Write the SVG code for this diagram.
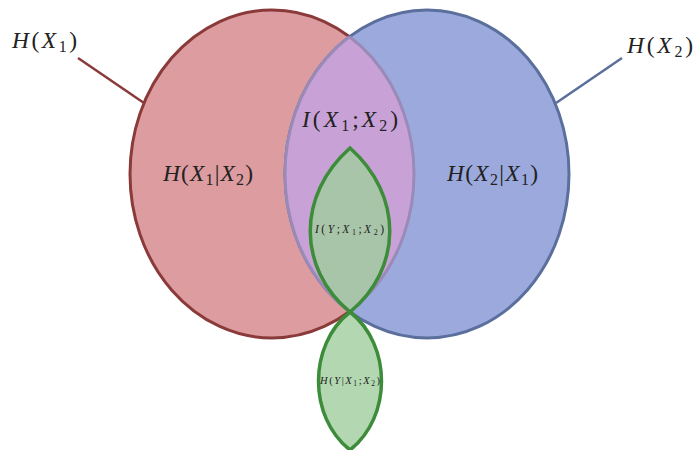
<svg xmlns="http://www.w3.org/2000/svg" width="696" height="450" viewBox="0 0 696 450">
<style>
text{font-family:"Liberation Serif","DejaVu Serif",serif;fill:#222}
.i{font-style:italic}
.big{font-size:23.5px}
.sm{font-size:11.5px}
.xs{font-size:10.5px}
</style>
<defs>
<clipPath id="clipRed"><ellipse cx="272" cy="174" rx="142" ry="164"/></clipPath>
<clipPath id="clipBlue"><ellipse cx="427" cy="174" rx="142" ry="164"/></clipPath>
</defs>
<g id="connectors">
<line x1="78" y1="58" x2="144" y2="103" stroke="#8b3a3a" stroke-width="2.5"/>
<line x1="622" y1="58" x2="556" y2="103" stroke="#5b6f9c" stroke-width="2.5"/>
</g>
<g id="X1">
<ellipse cx="272" cy="174" rx="142" ry="164" fill="#dc9ca0" stroke="#8b3a3a" stroke-width="3"/>
</g>
<g id="X2">
<ellipse cx="427" cy="174" rx="142" ry="164" fill="#9ba9dd" stroke="#5b6f9c" stroke-width="3"/>
</g>
<g id="overlap">
<ellipse cx="427" cy="174" rx="142" ry="164" fill="#c8a2d6" clip-path="url(#clipRed)"/>
<ellipse cx="272" cy="174" rx="142" ry="164" fill="none" stroke="#9a8ab8" stroke-width="3" clip-path="url(#clipBlue)"/>
<ellipse cx="427" cy="174" rx="142" ry="164" fill="none" stroke="#9a8ab8" stroke-width="3" clip-path="url(#clipRed)"/>
</g>
<g id="IY">
<path d="M350,148 C297,195 297,268 350,312 C403,268 403,195 350,148 Z" fill="#a9c5a9" stroke="#3c8c3a" stroke-width="3.5" stroke-linejoin="miter"/>
</g>
<g id="HY">
<path d="M350,312 C308,345 308,417 350,450 C392,417 392,345 350,312 Z" fill="#b3d8b1" stroke="#3c8c3a" stroke-width="3.5"/>
</g>
<g id="labels">
<text class="big" x="12" y="48" textLength="65" lengthAdjust="spacing"><tspan class="i">H</tspan>(<tspan class="i">X</tspan><tspan font-size="16" dy="4">1</tspan><tspan dy="-4">)</tspan></text>
<text class="big" x="627" y="53" textLength="66" lengthAdjust="spacing"><tspan class="i">H</tspan>(<tspan class="i">X</tspan><tspan font-size="16" dy="4">2</tspan><tspan dy="-4">)</tspan></text>
<text class="big" x="302" y="127" textLength="96" lengthAdjust="spacing"><tspan class="i">I</tspan>(<tspan class="i">X</tspan><tspan font-size="16" dy="4">1</tspan><tspan dy="-4">;</tspan><tspan class="i">X</tspan><tspan font-size="16" dy="4">2</tspan><tspan dy="-4">)</tspan></text>
<text class="big" x="163" y="181" textLength="90" lengthAdjust="spacing"><tspan class="i">H</tspan>(<tspan class="i">X</tspan><tspan font-size="16" dy="4">1</tspan><tspan dy="-4">|</tspan><tspan class="i">X</tspan><tspan font-size="16" dy="4">2</tspan><tspan dy="-4">)</tspan></text>
<text class="big" x="447" y="181" textLength="91" lengthAdjust="spacing"><tspan class="i">H</tspan>(<tspan class="i">X</tspan><tspan font-size="16" dy="4">2</tspan><tspan dy="-4">|</tspan><tspan class="i">X</tspan><tspan font-size="16" dy="4">1</tspan><tspan dy="-4">)</tspan></text>
<text class="sm" x="315" y="233" textLength="69" lengthAdjust="spacing"><tspan class="i">I</tspan>(<tspan class="i">Y</tspan>;<tspan class="i">X</tspan><tspan font-size="8" dy="2">1</tspan><tspan dy="-2">;</tspan><tspan class="i">X</tspan><tspan font-size="8" dy="2">2</tspan><tspan dy="-2">)</tspan></text>
<text class="xs" x="320" y="384" textLength="60" lengthAdjust="spacing"><tspan class="i">H</tspan>(<tspan class="i">Y</tspan>|<tspan class="i">X</tspan><tspan font-size="7.5" dy="2">1</tspan><tspan dy="-2">;</tspan><tspan class="i">X</tspan><tspan font-size="7.5" dy="2">2</tspan><tspan dy="-2">)</tspan></text>
</g>
</svg>
